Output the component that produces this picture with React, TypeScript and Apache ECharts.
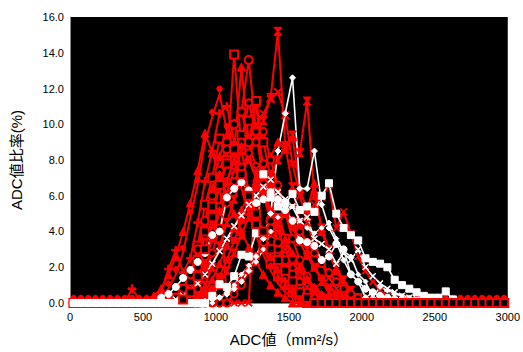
import React, { useEffect, useRef } from "react";
import * as echarts from "echarts";

// x positions of the bins (mm²/s)
const BIN_START = 25;
const BIN_STEP = 50;
const BIN_COUNT = 60;

const X_TICKS = [0, 500, 1000, 1500, 2000, 2500, 3000];
const Y_TICKS = [0, 2, 4, 6, 8, 10, 12, 14, 16];

// Red series: [start bin index, values...]
const R01_START = 14; const R01 = [0.3, 0.8, 1.5, 3.2, 5.5, 7.0, 9.2, 8.0, 13.9, 8.6, 6.2, 4.4, 3.1, 2.2, 1.5, 1.0, 0.6, 0.3];
const R02_START = 15; const R02 = [0.4, 0.9, 2.0, 3.8, 5.6, 7.2, 9.0, 10.0, 10.7, 13.6, 9.6, 6.8, 4.6, 3.0, 2.0, 1.2, 0.6, 0.3];
const R03_START = 15; const R03 = [0.5, 1.2, 2.6, 4.6, 6.4, 8.2, 9.4, 8.6, 13.2, 9.0, 11.2, 7.2, 5.0, 3.4, 2.2, 1.4, 0.8, 0.4];
const R04_START = 8; const R04 = [0.8, 0.2, 0.1, 0.3, 0.6, 1.9, 2.95, 1.7, 2.5, 4.5, 6.8, 8.5, 10.6, 11.0, 9.0, 7.5, 6.0, 4.8, 3.5, 2.6, 1.8, 1.2, 0.7, 0.4, 0.2];
const R05_START = 12; const R05 = [0.3, 0.8, 1.6, 2.8, 4.8, 6.6, 9.0, 10.4, 11.7, 9.6, 8.0, 6.4, 5.0, 3.8, 2.7, 1.8, 1.1, 0.6, 0.3];
const R06_START = 14; const R06 = [0.2, 0.6, 1.2, 2.4, 4.0, 5.4, 6.6, 7.8, 8.6, 9.4, 10.2, 11.3, 9.0, 7.0, 5.2, 3.6, 2.4, 1.5, 0.9, 0.5, 0.2];
const R07_START = 15; const R07 = [0.3, 0.8, 1.5, 2.6, 3.8, 5.0, 6.2, 7.4, 8.5, 9.2, 10.0, 10.6, 11.4, 11.8, 10.5, 7.8, 6.0, 4.5, 3.2, 2.2, 1.4, 0.8, 0.4];
const R08_START = 17; const R08 = [0.4, 1.0, 2.0, 3.2, 4.5, 5.8, 7.0, 8.2, 9.4, 10.2, 11.5, 15.2, 8.8, 6.5, 4.5, 3.0, 2.0, 1.2, 0.6, 0.3];
const R09_START = 18; const R09 = [0.2, 0.5, 1.0, 1.8, 2.8, 3.8, 4.8, 5.6, 6.4, 7.2, 8.0, 8.6, 9.4, 8.4, 11.3, 6.0, 4.2, 3.0, 2.0, 1.3, 0.7, 0.3];
const R10_START = 14; const R10 = [0.3, 0.8, 1.6, 3.0, 4.6, 6.0, 7.4, 8.6, 10.0, 10.7, 9.0, 7.6, 6.0, 4.6, 3.4, 2.4, 1.6, 1.0, 0.5, 0.2];
const R11_START = 15; const R11 = [0.2, 0.6, 1.4, 2.6, 4.0, 5.4, 6.8, 8.0, 9.0, 11.2, 9.6, 7.8, 6.0, 4.4, 3.0, 2.0, 1.2, 0.6, 0.3];
const R12_START = 17; const R12 = [0.3, 0.7, 1.3, 2.2, 3.2, 4.2, 5.2, 6.0, 6.8, 7.4, 8.2, 9.0, 8.6, 9.3, 6.4, 5.2, 6.7, 4.0, 2.8, 1.8, 1.0, 0.5, 0.2];
const R13_START = 16; const R13 = [0.3, 0.8, 1.6, 2.8, 4.2, 5.6, 6.8, 7.6, 8.4, 9.0, 9.6, 8.0, 6.6, 5.0, 3.6, 2.4, 1.5, 0.8, 0.4];
const R14_START = 10; const R14 = [0.2, 0.4, 0.8, 1.6, 2.6, 4.0, 5.6, 7.4, 9.5, 8.4, 7.2, 6.0, 5.0, 4.0, 3.1, 2.3, 1.6, 1.0, 0.6, 0.3];
const R15_START = 20; const R15 = [0.3, 0.6, 1.0, 1.5, 2.0, 2.6, 3.2, 3.8, 4.4, 5.0, 5.4, 5.2, 4.8, 5.5, 5.9, 6.6, 4.2, 5.1, 3.9, 2.6, 1.8, 1.2, 0.7, 0.4, 0.2];
const R17_START = 17; const R17 = [0.5, 2.0, 4.2, 7.0, 0, 0, 0, 0, 7.5, 6.0, 5.2, 4.0, 3.0, 2.2, 1.5, 0.9, 0.5, 0.2];
const R18_START = 22; const R18 = [0.5, 1.0, 1.8, 2.6, 3.4, 4.2, 4.8, 5.2, 4.6, 4.0, 3.4, 2.8, 2.2, 1.7, 1.2, 0.8, 0.5, 0.3, 0.1];
const R19_START = 18; const R19 = [0.3, 0.8, 1.5, 2.4, 3.5, 4.6, 5.6, 6.4, 7.0, 6.6, 5.8, 5.0, 4.2, 3.4, 2.6, 2.0, 1.4, 0.9, 0.5, 0.3, 0.1];
const R20_START = 16; const R20 = [0.5, 1.2, 2.2, 3.6, 5.2, 6.8, 8.0, 8.8, 8.0, 7.0, 6.0, 5.2, 4.4, 3.6, 2.8, 2.0, 1.4, 0.9, 0.5, 0.2];
// drawn on top; recorded only from bin 15 onward
const R16_START = 15; const R16 = [0.2, 0.6, 1.5, 3.0, 4.8, 6.6, 7.8, 8.6, 7.2, 6.0, 5.0, 4.0, 3.0, 2.4, 1.8, 1.2, 0.6, 0.3];
const R16_FIRST_BIN = 15;

// White series
const W01_START = 18; const W01 = [0.1, 0.2, 0.3, 0.5, 0.8, 1.2, 1.8, 2.6, 3.6, 5.0, 8.5, 10.6, 12.6, 6.4, 6.4, 8.5, 5.5, 4.2, 3.4, 2.4, 1.6, 1.2, 0.3, 0.6, 0.4, 0.2];
const W02_START = 12; const W02 = [0.3, 0.5, 0.9, 1.4, 1.85, 2.3, 2.8, 3.8, 4.0, 5.9, 6.4, 6.75, 6.3, 5.6, 5.8, 6.2, 5.8, 5.2, 4.6, 3.5, 3.4, 3.2, 2.4, 2.6, 3.3, 3.0, 1.6, 1.2, 0.8, 0.6, 0.4, 0.3, 0.2, 0.1];
const W03_START = 19; const W03 = [0.4, 1.05, 0.9, 1.5, 2.7, 2.6, 3.9, 7.2, 5.9, 5.4, 5.6, 6.1, 5.2, 5.4, 5.1, 6.0, 6.7, 5.0, 4.2, 3.8, 3.5, 2.5, 2.3, 2.2, 2.0, 1.3, 1.0, 0.8, 0.6, 0.4, 0.3, 0.3, 0.65, 0.2];
const W04_START = 14; const W04 = [0.2, 0.4, 0.7, 1.1, 1.6, 2.2, 2.9, 3.6, 4.3, 4.9, 5.5, 6.0, 6.5, 6.9, 6.2, 5.8, 5.4, 4.6, 4.8, 3.6, 3.3, 3.0, 2.2, 2.8, 2.4, 3.0, 2.0, 1.5, 1.1, 0.8, 0.6, 0.4, 0.3, 0.2];
const W05_START = 20; const W05 = [0.3, 0.6, 1.0, 1.6, 2.1, 2.3, 3.0, 4.0, 4.8, 5.3, 5.4, 4.6, 4.2, 3.9, 4.2, 4.5, 3.6, 2.9, 2.6, 1.6, 1.2, 0.3, 0.9, 0.7, 0.5, 0.4, 0.3, 0.2];

const PLUS = "path://M4,0H6V4H10V6H6V10H4V6H0V4H4Z";
const CROSS = "path://M1,0L5,4L9,0L10,1L6,5L10,9L9,10L5,6L1,10L0,9L4,5L0,1Z";
const HOURGLASS = "path://M0,0H10L6,5L10,10H0L4,5Z";

type Spec = { start: number; vals: number[]; symbol: string; hollow?: boolean; size?: number; first?: number; white?: boolean };

const RED_SPECS: Spec[] = [
  { start: R01_START, vals: R01, symbol: "rect", hollow: true, size: 8 },
  { start: R02_START, vals: R02, symbol: "circle", hollow: true, size: 8 },
  { start: R03_START, vals: R03, symbol: "triangle", size: 8 },
  { start: R04_START, vals: R04, symbol: PLUS, size: 8 },
  { start: R05_START, vals: R05, symbol: "pin", size: 9 },
  { start: R06_START, vals: R06, symbol: "rect", hollow: true, size: 8 },
  { start: R07_START, vals: R07, symbol: CROSS, size: 8 },
  { start: R08_START, vals: R08, symbol: HOURGLASS, size: 8 },
  { start: R09_START, vals: R09, symbol: HOURGLASS, size: 8 },
  { start: R10_START, vals: R10, symbol: "circle", hollow: true, size: 8 },
  { start: R11_START, vals: R11, symbol: "circle", hollow: true, size: 7 },
  { start: R12_START, vals: R12, symbol: "triangle", size: 8 },
  { start: R13_START, vals: R13, symbol: "circle", hollow: true, size: 7 },
  { start: R14_START, vals: R14, symbol: "triangle", size: 8 },
  { start: R15_START, vals: R15, symbol: CROSS, size: 7 },
  { start: R17_START, vals: R17, symbol: CROSS, size: 7 },
  { start: R18_START, vals: R18, symbol: "circle", hollow: true, size: 7 },
  { start: R19_START, vals: R19, symbol: "rect", size: 6 },
  { start: R20_START, vals: R20, symbol: "triangle", size: 7 },
];

const WHITE_SPECS: Spec[] = [
  { start: W01_START, vals: W01, symbol: "diamond", size: 6 },
  { start: W02_START, vals: W02, symbol: "circle", size: 7 },
  { start: W03_START, vals: W03, symbol: "rect", size: 7 },
  { start: W04_START, vals: W04, symbol: CROSS, size: 6 },
  { start: W05_START, vals: W05, symbol: "diamond", size: 5 },
];

const TOP_RED_SPECS: Spec[] = [
  { start: R16_START, vals: R16, symbol: "rect", hollow: true, size: 8, first: R16_FIRST_BIN },
];

function toPoints(start: number, vals: number[], first = 0): [number, number | null][] {
  const pts: [number, number | null][] = [];
  for (let i = 0; i < BIN_COUNT; i++) {
    const x = BIN_START + i * BIN_STEP;
    if (i < first) {
      pts.push([x, null]);
      continue;
    }
    const j = i - start;
    const y = j >= 0 && j < vals.length ? vals[j] : 0;
    pts.push([x, y]);
  }
  return pts;
}

export default function App() {
  const ref = useRef<HTMLDivElement>(null);
  useEffect(() => {
    if (!ref.current) return;
    const chart = echarts.init(ref.current, null, { renderer: "svg" });
    const red = "#ff0000";
    const series: any[] = [];
    const addRed = (s: Spec, i: number) => {
      series.push({
        type: "line",
        name: "r" + series.length,
        data: toPoints(s.start, s.vals, s.first || 0),
        symbol: s.symbol,
        symbolSize: s.size || 7,
        showAllSymbol: true,
        connectNulls: false,
        lineStyle: { color: red, width: 2 },
        itemStyle: s.hollow
          ? { color: "#000", borderColor: red, borderWidth: 2 }
          : { color: red, borderColor: red, borderWidth: 1 },
        emphasis: { disabled: true },
      });
    };
    RED_SPECS.forEach(addRed);
    WHITE_SPECS.forEach((s) => {
      series.push({
        type: "line",
        name: "w" + series.length,
        data: toPoints(s.start, s.vals),
        symbol: s.symbol,
        symbolSize: s.size || 6,
        showAllSymbol: true,
        lineStyle: { color: "#ffffff", width: 1.6 },
        itemStyle: { color: "#ffffff", borderColor: "#ffffff", borderWidth: 1 },
        emphasis: { disabled: true },
      });
    });
    TOP_RED_SPECS.forEach(addRed);
    chart.setOption({
      animation: false,
      backgroundColor: "#ffffff",
      grid: {
        left: 70,
        right: 13,
        top: 17,
        bottom: 41,
        show: true,
        backgroundColor: "#000000",
        borderWidth: 0,
      },
      xAxis: {
        type: "value",
        min: X_TICKS[0],
        max: X_TICKS[X_TICKS.length - 1],
        interval: 500,
        name: "ADC値（mm²/s）",
        nameLocation: "middle",
        nameGap: 29,
        nameTextStyle: { fontFamily: "Liberation Sans, Noto Sans CJK JP", fontSize: 15, color: "#000" },
        axisLine: { show: true, lineStyle: { color: "#888", width: 1 } },
        axisTick: { show: false },
        splitLine: { show: false },
        axisLabel: {
          color: "#000",
          fontSize: 11,
          fontFamily: "Liberation Sans",
          margin: 9,
          formatter: (v: number) => String(v),
        },
      },
      yAxis: {
        type: "value",
        min: Y_TICKS[0],
        max: Y_TICKS[Y_TICKS.length - 1],
        interval: 2,
        name: "ADC値比率(%)",
        nameLocation: "middle",
        nameGap: 46,
        nameRotate: 90,
        nameTextStyle: { fontFamily: "Liberation Sans, Noto Sans CJK JP", fontSize: 15, color: "#000" },
        axisLine: { show: true, lineStyle: { color: "#888", width: 1 } },
        axisTick: { show: false },
        splitLine: { show: false },
        axisLabel: {
          color: "#000",
          fontSize: 11,
          fontFamily: "Liberation Sans",
          margin: 6,
          formatter: (v: number) => v.toFixed(1),
        },
      },
      series,
    });
    return () => chart.dispose();
  }, []);
  return (
    <div
      ref={ref}
      style={{ position: "fixed", left: 0, top: 0, width: 523, height: 352 }}
    />
  );
}
